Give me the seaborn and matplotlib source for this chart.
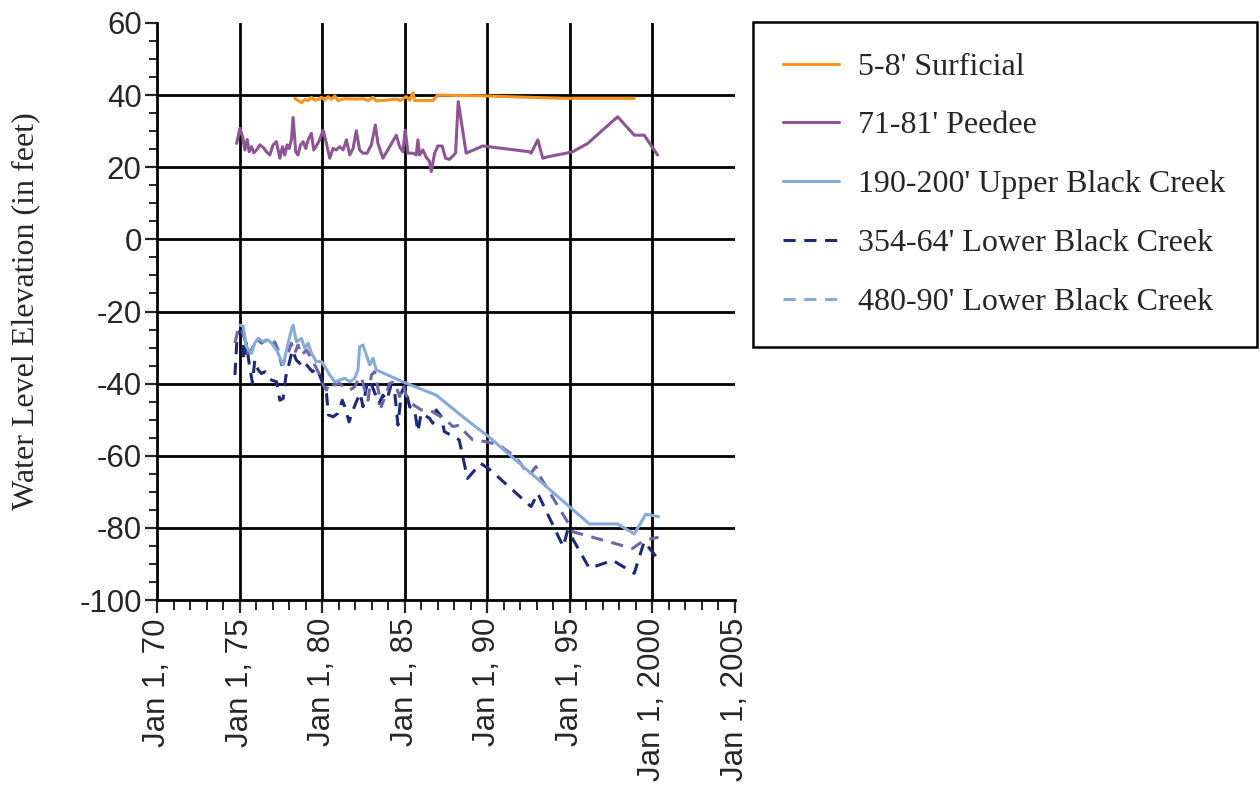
import matplotlib
matplotlib.use("Agg")
import matplotlib.pyplot as plt
from matplotlib.lines import Line2D
import seaborn as sns
import pandas as pd

# ---------------- data (decimal years, feet) ----------------
surficial_x = [1978.34, 1978.75, 1978.95, 1979.15, 1979.35, 1979.55, 1979.75, 1979.96, 1980.16,
               1980.36, 1980.56, 1980.76, 1980.96, 1981.37, 1982.07, 1982.47, 1982.78, 1983.08,
               1983.28, 1983.89, 1984.49, 1984.73, 1985.10, 1985.30, 1985.50, 1985.60, 1986.70,
               1987.00, 1989.70, 1994.60, 1998.90]
surficial_y = [39.1, 37.9, 38.8, 38.5, 39.4, 38.6, 38.8, 39.4, 38.6,
               39.6, 38.8, 39.8, 38.5, 39.0, 38.9, 39.0, 38.5, 39.4,
               38.4, 38.6, 38.9, 38.5, 39.6, 38.6, 40.7, 38.5, 38.5,
               40.0, 39.8, 39.1, 39.1]

peedee_x = [1974.82, 1975.02, 1975.18, 1975.32, 1975.46, 1975.58, 1975.72, 1975.86, 1976.03, 1976.23,
            1976.43, 1976.63, 1976.83, 1977.03, 1977.23, 1977.44, 1977.60, 1977.74, 1977.88, 1978.00,
            1978.14, 1978.24, 1978.40, 1978.54, 1978.69, 1978.85, 1979.01, 1979.15, 1979.35, 1979.49,
            1979.65, 1979.85, 1980.06, 1980.26, 1980.46, 1980.66, 1980.86, 1981.06, 1981.27, 1981.47,
            1981.67, 1981.87, 1982.07, 1982.27, 1982.47, 1982.72, 1982.98, 1983.22, 1983.38, 1983.68,
            1984.09, 1984.49, 1984.69, 1984.89, 1985.03, 1985.20, 1985.50, 1985.70, 1985.80, 1985.90,
            1986.10, 1986.30, 1986.50, 1986.61, 1986.81, 1987.01, 1987.27, 1987.47, 1987.71, 1988.08,
            1988.24, 1988.72, 1989.73, 1992.55, 1992.65, 1993.06, 1993.36, 1993.66, 1994.77, 1995.17,
            1996.08, 1997.89, 1998.90, 1999.50, 2000.31]
peedee_y = [26.6, 30.8, 28.5, 24.8, 27.7, 24.3, 25.7, 24.0, 24.8, 26.2,
            25.5, 24.3, 23.4, 26.2, 27.1, 22.5, 25.7, 23.4, 26.2, 25.2,
            27.7, 33.8, 24.3, 23.4, 26.2, 27.1, 25.2, 27.6, 29.4, 24.8,
            25.9, 27.6, 30.3, 26.6, 22.5, 25.2, 24.8, 25.7, 24.8, 27.6,
            23.4, 25.2, 30.1, 24.8, 23.9, 23.9, 26.2, 31.7, 26.6, 22.5,
            25.7, 28.9, 25.7, 24.3, 30.3, 23.9, 23.9, 23.4, 27.6, 23.4,
            24.8, 22.8, 21.6, 18.8, 23.9, 25.9, 25.9, 22.5, 22.2, 23.9,
            38.2, 23.9, 25.9, 24.3, 23.9, 27.6, 22.5, 22.9, 23.9, 24.3,
            26.6, 34.0, 28.9, 28.9, 23.4]

upper_bc_x = [1975.02, 1975.22, 1975.42, 1975.72, 1975.92, 1976.13, 1976.43, 1976.73, 1976.93, 1977.24,
              1977.64, 1977.94, 1978.14, 1978.24, 1978.44, 1978.75, 1978.95, 1979.15, 1979.35, 1979.65,
              1979.96, 1980.16, 1980.46, 1980.76, 1981.06, 1981.37, 1981.67, 1981.97, 1982.17, 1982.27,
              1982.47, 1982.68, 1982.88, 1983.08, 1983.28, 1984.89, 1986.91, 1988.52, 1990.13, 1996.18,
              1997.89, 1998.90, 1999.60, 2000.37]
upper_bc_y = [-23.8, -24.0, -29.8, -31.6, -28.8, -27.4, -28.4, -27.9, -28.8, -30.7,
              -34.8, -28.8, -25.1, -23.8, -28.4, -27.5, -30.2, -28.8, -31.6, -33.9,
              -33.9, -35.3, -37.6, -39.5, -39.0, -38.5, -39.5, -38.5, -36.2, -29.8,
              -29.3, -32.1, -34.8, -33.0, -36.2, -39.5, -43.2, -49.2, -54.9, -78.9,
              -78.9, -81.7, -76.2, -76.9]

lower_354_x = [1974.72, 1974.86, 1975.12, 1975.26, 1975.42, 1975.58, 1975.78, 1975.92, 1976.13, 1976.33,
               1976.53, 1976.73, 1976.93, 1977.24, 1977.44, 1977.64, 1977.80, 1978.00, 1978.20, 1978.44,
               1978.65, 1978.85, 1979.15, 1979.41, 1979.65, 1979.89, 1980.10, 1980.26, 1980.38, 1980.66,
               1980.96, 1981.22, 1981.37, 1981.63, 1981.87, 1982.07, 1982.31, 1982.47, 1982.68, 1982.88,
               1983.12, 1983.44, 1983.68, 1983.92, 1984.17, 1984.39, 1984.59, 1984.79, 1984.99, 1985.30,
               1985.60, 1985.80, 1986.00, 1986.50, 1986.70, 1986.90, 1987.20, 1987.40, 1987.80, 1988.30,
               1988.80, 1989.60, 1990.20, 1992.65, 1993.05, 1994.60, 1994.87, 1996.18, 1997.60, 1998.90,
               1999.50, 2000.40]
lower_354_y = [-37.6, -26.1, -25.1, -33.5, -28.8, -34.4, -39.9, -33.5, -36.2, -37.2,
               -36.7, -38.5, -39.0, -39.5, -44.6, -44.1, -38.1, -34.4, -30.7, -33.5,
               -34.4, -33.5, -35.3, -36.7, -35.8, -38.1, -40.9, -42.7, -48.7, -49.2,
               -48.2, -44.6, -46.4, -50.6, -47.3, -45.0, -42.7, -46.4, -40.9, -39.0,
               -41.8, -45.5, -43.2, -44.6, -40.4, -42.2, -51.5, -42.7, -40.5, -46.4,
               -47.3, -53.3, -48.2, -49.6, -51.0, -47.3, -49.0, -53.3, -54.3, -55.6,
               -66.3, -62.1, -64.0, -74.1, -70.4, -85.2, -80.6, -91.2, -89.0, -92.6,
               -83.8, -89.0]

lower_480_x = [1974.72, 1974.92, 1975.12, 1975.32, 1975.52, 1975.72, 1976.03, 1976.33, 1976.63, 1976.93,
               1977.13, 1977.34, 1977.54, 1977.74, 1977.94, 1978.14, 1978.34, 1978.54, 1978.75, 1979.05,
               1979.35, 1979.55, 1979.85, 1980.06, 1980.26, 1980.46, 1980.76, 1981.06, 1981.37, 1981.67,
               1981.97, 1982.17, 1982.37, 1982.58, 1982.78, 1982.98, 1983.18, 1983.38, 1983.58, 1983.88,
               1984.09, 1984.39, 1984.69, 1984.89, 1985.09, 1985.40, 1985.70, 1986.00, 1986.50, 1987.01,
               1987.31, 1987.61, 1987.92, 1988.32, 1988.72, 1989.12, 1989.93, 1990.70, 1991.70, 1992.55,
               1992.95, 1993.15, 1994.97, 1995.20, 1998.80, 1999.50, 2000.37]
lower_480_y = [-28.8, -24.7, -24.7, -27.9, -31.6, -30.7, -27.5, -28.8, -27.9, -29.3,
               -28.4, -30.7, -34.8, -33.5, -31.6, -28.8, -31.6, -29.3, -32.1, -30.7,
               -33.0, -34.8, -37.6, -40.4, -41.8, -39.5, -40.4, -39.9, -41.3, -41.8,
               -40.9, -39.0, -38.1, -41.8, -44.6, -37.6, -36.7, -41.3, -46.4, -42.7,
               -39.9, -39.5, -43.6, -40.4, -43.2, -45.5, -46.4, -47.3, -47.3, -48.7,
               -49.6, -50.6, -51.9, -51.5, -53.8, -55.6, -56.1, -57.0, -60.3, -65.4,
               -63.0, -65.4, -79.2, -81.1, -85.7, -83.4, -82.6]

series_labels = ["5-8' Surficial", "71-81' Peedee", "190-200' Upper Black Creek",
                 "354-64' Lower Black Creek", "480-90' Lower Black Creek"]

x_ticks = [1970, 1975, 1980, 1985, 1990, 1995, 2000, 2005]
x_tick_labels = ["Jan 1, 70", "Jan 1, 75", "Jan 1, 80", "Jan 1, 85", "Jan 1, 90",
                 "Jan 1, 95", "Jan 1, 2000", "Jan 1, 2005"]
y_ticks = [-100, -80, -60, -40, -20, 0, 20, 40, 60]
y_label = "Water Level Elevation (in feet)"

# ---------------- styling ----------------
sns.set_style("white")
plt.rcParams["font.family"] = ["Liberation Sans", "DejaVu Sans"]
SERIF = ["Liberation Serif", "DejaVu Serif"]

ORANGE = "#f7931e"
PURPLE = "#8e5595"
LIGHTBLUE = "#86aadb"
NAVY = "#1e2a78"
SLATE = "#6a68a8"
LEGEND_480 = "#8aaad9"

fig = plt.figure(figsize=(12.6, 7.97), dpi=100)
ax = fig.add_axes([157 / 1260, 1 - 600 / 797, (735 - 157) / 1260, (600 - 23) / 797])

LW = 2.2
dash = (4.0, 2.8)

def draw(xs, ys, color, dashed=False, z=3):
    df = pd.DataFrame({"x": xs, "y": ys})
    sns.lineplot(data=df, x="x", y="y", ax=ax, color=color, lw=LW, sort=False,
                 estimator=None, zorder=z, legend=False)
    line = ax.lines[-1]
    if dashed:
        line.set_dashes(dash)
    line.set_solid_joinstyle("round")
    line.set_dash_joinstyle("round")

draw(surficial_x, surficial_y, ORANGE)
draw(peedee_x, peedee_y, PURPLE)
draw(lower_354_x, lower_354_y, NAVY, dashed=True, z=3)
draw(lower_480_x, lower_480_y, SLATE, dashed=True, z=4)
draw(upper_bc_x, upper_bc_y, LIGHTBLUE, z=5)

ax.set_xlim(1970, 2005)
ax.set_ylim(-100, 60)

# interior grid lines
for xv in x_ticks[1:-1]:
    ax.axvline(xv, color="black", lw=2.0, zorder=1)
for yv in y_ticks[1:-1]:
    ax.axhline(yv, color="black", lw=2.0, zorder=1)

ax.set_xticks(x_ticks)
ax.set_xticklabels(x_tick_labels, rotation=90, fontsize=22.5)
ax.set_xticks([v for v in range(1970, 2006) if v % 5 != 0], minor=True)
ax.set_yticks(y_ticks)
ax.set_yticklabels([str(v) for v in y_ticks], fontsize=22.5)
ax.set_yticks([v for v in range(-100, 61, 5) if v % 20 != 0], minor=True)

ax.tick_params(axis="y", which="major", direction="out", length=9, width=1.6, left=True, pad=2)
ax.tick_params(axis="y", which="minor", direction="out", length=6, width=1.4, left=True)
ax.tick_params(axis="x", which="major", direction="out", length=9, width=1.6, bottom=True, pad=4)
ax.tick_params(axis="x", which="minor", direction="out", length=7, width=1.4, bottom=True)

for s in ["top", "right"]:
    ax.spines[s].set_visible(False)
for s in ["left", "bottom"]:
    ax.spines[s].set_color("black")
    ax.spines[s].set_linewidth(2.0)

ax.set_xlabel("")
ax.set_ylabel(y_label, fontsize=23, family=SERIF, labelpad=28)

handles = [
    Line2D([], [], color=ORANGE, lw=LW),
    Line2D([], [], color=PURPLE, lw=LW),
    Line2D([], [], color=LIGHTBLUE, lw=LW),
    Line2D([], [], color=NAVY, lw=LW, dashes=dash),
    Line2D([], [], color=LEGEND_480, lw=LW, dashes=dash),
]
lx0, lx1, ly0, ly1 = 753 / 1260, 1257 / 1260, 1 - 340 / 797, 1 - 22 / 797
leg = fig.legend(handles, series_labels, loc="upper left",
                 bbox_to_anchor=(lx0, ly0, lx1 - lx0, ly1 - ly0), mode="expand",
                 frameon=True, fancybox=False, edgecolor="black", framealpha=1,
                 prop={"family": SERIF, "size": 23},
                 handlelength=1.75, handletextpad=0.6, labelspacing=0.92, borderpad=0.95,
                 borderaxespad=0)
leg.get_frame().set_linewidth(1.8)

fig.savefig("out.png", dpi=100)
